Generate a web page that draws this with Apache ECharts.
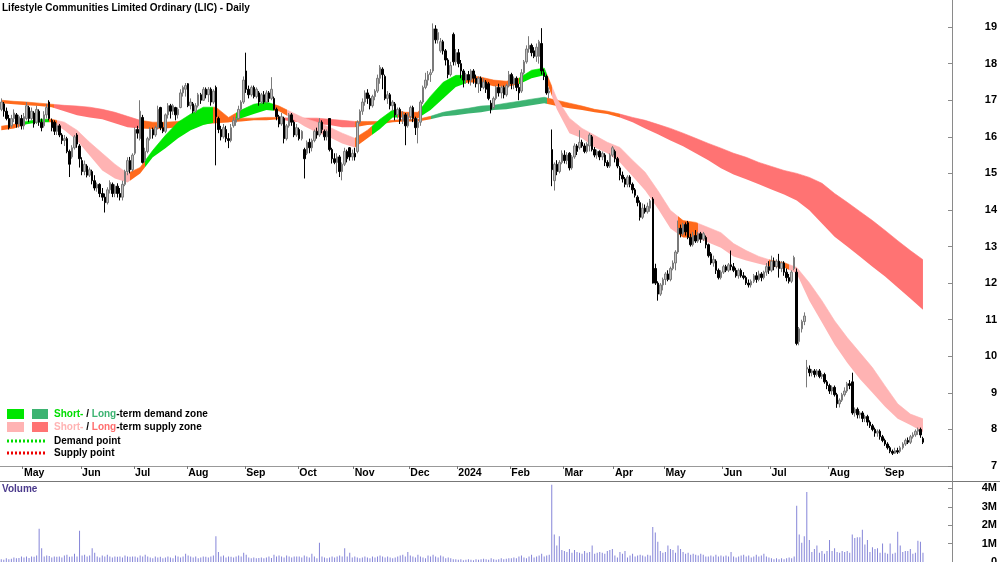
<!DOCTYPE html>
<html><head><meta charset="utf-8">
<script src="https://cdn.jsdelivr.net/npm/echarts@6/dist/echarts.min.js"></script>
<style>html,body{margin:0;padding:0;background:#fff}#c{width:1000px;height:562px}</style>
</head><body><div id="c"></div>
<script>
const chartTitle = 'Lifestyle Communities Limited Ordinary (LIC) - Daily';
const startDate = '2023-04-17', endDate = '2024-09-23';
const holidays = ['2023-04-25','2023-06-12','2023-12-25','2023-12-26','2024-01-01','2024-01-26','2024-03-29','2024-04-01','2024-04-25','2024-06-10'];
const padDays = 11;
const monthNames = ['Jan','Feb','Mar','Apr','May','Jun','Jul','Aug','Sep','Oct','Nov','Dec'];

// daily candles: [open, close, low, high]
const ohlc = [
// Apr 2023
[16.75,16.95,16.70,17.05],[16.90,16.70,16.55,16.95],[16.70,16.50,16.45,16.80],[16.50,16.25,16.20,16.60],[16.30,16.50,16.25,16.60],[16.50,16.65,16.40,16.75],[16.60,16.35,16.25,16.65],[16.35,16.55,16.25,16.60],[16.50,16.30,16.20,16.60],
// May 2023
[16.30,16.55,16.20,16.65],[16.50,16.85,16.45,16.95],[16.80,16.50,16.40,16.85],[16.50,16.70,16.45,16.80],[16.65,16.35,16.25,16.70],
[16.40,16.75,16.35,16.85],[16.70,16.40,16.30,16.75],[16.40,16.25,16.15,16.50],[16.30,16.60,16.25,16.70],[16.60,16.80,16.50,16.90],
[16.95,16.50,16.45,17.00],[16.45,16.25,16.15,16.50],[16.40,16.15,16.05,16.45],[16.15,16.30,16.05,16.37],[16.30,16.05,15.99,16.35],
[16.05,15.90,15.80,16.10],[15.90,15.95,15.75,16.05],[15.95,15.60,15.55,16.00],[15.60,15.25,14.90,15.65],[15.45,15.70,15.40,15.77],
[15.70,16.00,15.65,16.05],[16.05,15.80,15.70,16.10],[15.75,15.40,15.16,15.80],
// Jun 2023
[15.35,15.05,14.95,15.44],[15.05,15.25,14.95,15.35],[15.20,14.95,14.89,15.25],[14.95,15.10,14.90,15.16],[15.05,14.80,14.70,15.10],
[14.80,14.60,14.53,14.95],[14.60,14.70,14.50,14.75],[14.70,14.45,14.35,14.73],[14.45,14.35,14.25,14.60],[14.35,14.20,13.93,14.45],
[14.20,14.55,14.15,14.62],[14.55,14.75,14.45,14.81],[14.70,14.45,14.35,14.75],[14.45,14.65,14.35,14.70],[14.65,14.45,14.34,14.73],
[14.45,14.35,14.26,14.60],[14.35,14.70,14.26,14.80],[14.70,15.05,14.65,15.10],[15.05,15.35,14.95,15.44],[15.35,15.10,15.00,15.45],
[15.10,15.50,15.05,15.55],
// Jul 2023
[15.55,16.20,15.50,16.26],[16.20,16.10,15.95,16.30],[15.95,16.70,15.90,17.00],[16.53,15.30,15.27,16.60],[15.35,15.60,15.30,15.70],
[15.60,15.95,15.55,16.00],[15.95,16.20,15.90,16.26],[16.20,16.05,15.95,16.25],[16.05,16.25,16.00,16.30],[16.25,16.75,16.20,16.85],
[16.80,16.25,16.18,16.82],[16.25,16.15,16.10,16.40],[16.15,16.60,16.10,16.64],[16.60,16.85,16.50,16.92],[16.85,16.70,16.50,16.90],
[16.70,16.85,16.60,16.90],[16.80,16.60,16.45,16.82],[16.60,16.75,16.50,16.80],[16.80,17.20,16.78,17.30],[17.20,17.35,17.10,17.40],
[17.30,17.40,17.10,17.47],
// Aug 2023
[17.45,16.85,16.81,17.47],[16.85,16.95,16.75,17.05],[16.90,16.70,16.64,16.95],[16.70,16.85,16.65,16.92],[16.85,17.15,16.80,17.20],
[17.15,17.00,16.90,17.20],[17.00,17.30,16.98,17.36],[17.30,17.15,17.05,17.35],[17.15,17.30,16.95,17.36],[17.30,16.95,16.85,17.35],
[16.95,17.25,16.90,17.30],[17.35,16.55,15.22,17.40],[16.50,16.20,16.10,16.55],[16.20,16.00,15.90,16.30],[16.00,16.25,15.95,16.35],
[16.20,15.95,15.85,16.30],[15.95,15.90,15.69,16.10],[15.90,16.25,15.85,16.35],[16.30,16.45,16.25,16.55],[16.40,16.50,16.30,16.55],
[16.50,16.75,16.45,16.85],[16.75,16.95,16.70,17.00],[16.95,17.55,16.90,17.65],
// Sep 2023
[17.80,17.30,17.20,18.30],[17.30,17.15,17.05,17.40],[17.15,17.35,17.10,17.40],[17.35,17.10,17.05,17.40],[17.10,17.30,17.05,17.35],
[17.20,16.95,16.85,17.25],[16.95,17.15,16.90,17.20],[17.15,16.95,16.90,17.25],[16.95,17.20,16.92,17.27],[17.20,17.05,16.95,17.25],
[17.05,17.30,17.00,17.63],[17.05,16.75,16.73,17.10],[16.75,16.55,16.45,16.80],[16.55,16.35,16.26,16.60],[16.35,16.55,16.30,16.65],
[16.50,15.95,15.82,16.55],[15.95,16.30,15.90,16.35],[16.30,16.60,16.25,16.65],[16.60,16.40,16.30,16.65],[16.40,16.05,15.99,16.45],
[16.05,16.25,16.00,16.35],
// Oct 2023
[16.20,15.95,15.90,16.25],[15.95,16.15,15.90,16.18],[15.65,15.40,14.86,15.70],[15.55,15.85,15.50,15.90],[15.85,15.70,15.55,15.95],
[15.70,15.90,15.60,15.95],[15.90,16.15,15.85,16.20],[16.15,16.05,15.95,16.25],[16.05,16.40,16.00,16.51],[16.40,16.20,16.10,16.45],
[16.15,16.00,15.90,16.20],[16.00,16.15,15.90,16.20],[16.50,15.65,15.60,16.51],[15.65,15.40,15.27,15.70],[15.40,15.30,15.25,15.55],
[15.30,15.45,15.00,15.55],[15.45,15.05,14.90,15.50],[15.05,15.25,14.81,15.30],[15.25,15.60,15.20,15.70],[15.60,15.40,15.30,15.65],
[15.70,15.45,15.35,15.72],[15.45,15.55,15.35,15.65],
// Nov 2023
[15.55,15.45,15.35,15.70],[15.60,16.40,15.55,16.45],[16.40,16.70,16.35,16.75],[16.70,16.95,16.60,17.05],[16.95,17.20,16.85,17.27],
[17.20,17.05,16.90,17.30],[17.05,16.85,16.75,17.15],[16.85,17.10,16.80,17.15],[17.10,17.25,17.00,17.30],[17.25,17.60,17.20,17.70],
[17.60,17.90,17.45,17.96],[17.85,17.70,17.30,17.90],[17.65,17.05,17.00,17.70],[17.05,17.15,16.90,17.25],[17.15,16.85,16.75,17.20],
[16.85,16.95,16.70,17.00],[16.90,16.60,16.45,16.95],[16.60,16.75,16.50,16.80],[16.75,16.45,16.35,16.80],[16.45,16.60,16.35,16.70],
[16.60,16.30,15.77,16.65],[16.30,16.55,16.25,16.65],
// Dec 2023
[16.55,16.80,16.45,16.85],[16.80,16.50,16.40,16.85],[16.50,16.25,16.05,16.55],[16.25,16.40,15.82,16.50],[16.40,16.95,16.30,17.00],
[16.95,17.35,16.90,17.40],[17.35,17.55,17.30,17.75],[17.55,17.70,17.40,17.80],[17.70,17.75,17.50,17.85],[17.80,18.95,17.75,19.10],
[18.95,18.65,18.55,19.05],[18.65,18.85,18.55,18.95],[18.35,18.60,18.30,18.70],[18.60,18.35,18.25,18.65],[18.35,18.10,17.95,18.40],
[18.10,17.70,17.60,18.15],[17.70,17.95,17.65,18.05],[18.80,18.05,17.95,18.85],[18.05,18.30,17.95,18.40],
// Jan 2024
[18.30,18.00,17.90,18.40],[18.00,17.80,17.60,18.10],[17.80,17.55,17.35,17.85],[17.55,17.70,17.45,17.75],[17.70,17.55,17.45,17.80],
[17.55,17.80,17.40,17.85],[17.80,17.60,17.45,17.85],[17.60,17.45,17.35,17.70],[17.45,17.60,17.20,17.65],[17.60,17.35,17.25,17.65],
[17.35,17.50,17.30,17.60],[17.50,17.30,17.20,17.55],[17.45,17.05,17.00,17.50],[16.92,16.75,16.64,17.00],[16.80,17.05,16.75,17.10],
[17.05,17.35,17.00,17.40],[17.35,17.20,17.10,17.45],[17.20,17.35,17.05,17.40],[17.35,17.15,17.05,17.40],[17.15,17.40,17.10,17.45],
[17.40,17.70,17.35,17.80],
// Feb 2024
[17.70,17.45,17.30,17.75],[17.45,17.60,17.30,17.65],[17.60,17.35,17.25,17.65],[17.35,17.20,17.00,17.45],[17.25,17.75,17.20,17.85],
[17.75,18.05,17.70,18.10],[18.05,18.40,18.00,18.50],[18.40,18.50,18.30,18.75],[18.50,18.30,18.20,18.55],[18.35,18.20,18.15,18.45],
[18.20,18.45,18.05,18.55],[18.20,18.60,18.00,18.65],[18.55,17.80,17.70,18.97],[17.75,17.65,17.55,17.85],[17.65,17.20,17.15,17.70],
[17.20,17.25,17.05,17.35],[15.65,15.10,14.65,16.20],[14.80,15.25,14.53,15.30],[15.25,15.05,14.95,15.36],[15.05,15.30,15.00,15.36],
[15.30,15.55,15.25,15.63],
// Mar 2024
[15.50,15.35,15.27,15.63],[15.35,15.50,15.25,15.58],[15.55,15.15,15.08,15.58],[15.15,15.45,15.10,15.50],[15.45,15.75,15.40,15.82],
[15.75,15.60,15.50,15.80],[15.70,15.85,15.65,16.18],[15.85,15.75,15.70,15.92],[15.75,15.60,15.55,15.82],[15.60,15.80,15.55,15.85],
[15.75,16.05,15.60,16.10],[16.00,15.65,15.60,16.05],[15.65,15.50,15.44,15.72],[15.50,15.60,15.40,15.65],[15.60,15.45,15.36,15.63],
[15.45,15.55,15.36,15.60],[15.50,15.30,15.20,15.55],[15.30,15.20,15.15,15.36],[15.20,15.50,15.15,15.55],[15.50,15.70,15.45,15.75],
// Apr 2024
[15.60,15.40,15.30,15.65],[15.40,15.20,15.14,15.45],[15.15,14.95,14.81,15.20],[14.95,14.85,14.75,15.05],[14.85,14.70,14.62,14.90],
[14.70,14.90,14.62,14.95],[14.90,14.70,14.62,14.95],[14.70,14.55,14.45,14.75],[14.55,14.40,14.34,14.60],[14.35,14.20,14.10,14.40],
[14.20,13.80,13.71,14.26],[13.80,14.05,13.75,14.18],[14.05,13.95,13.90,14.15],[13.95,14.10,13.90,14.20],[14.05,14.25,13.95,14.30],
[14.30,12.00,11.99,14.35],[12.40,12.00,11.95,12.53],[12.00,11.70,11.52,12.05],[11.70,11.95,11.65,12.00],[11.95,12.10,11.80,12.15],
// May 2024
[12.10,12.25,11.95,12.30],[12.25,12.10,12.05,12.35],[12.10,12.40,12.05,12.45],[12.40,12.55,12.35,12.62],[12.55,12.85,12.35,12.90],
[12.85,13.50,12.80,13.71],[13.50,13.35,13.25,13.60],[13.35,13.60,13.30,13.65],[13.60,13.40,13.30,13.66],[13.65,13.25,13.20,13.70],
[13.25,13.05,13.00,13.35],[13.05,13.30,13.00,13.40],[13.30,13.15,13.10,13.45],[13.15,13.35,13.10,13.40],[13.35,13.20,13.10,13.40],
[13.20,13.35,13.15,13.40],[13.25,13.05,12.95,13.30],[13.05,12.75,12.70,13.08],[12.80,12.55,12.50,12.85],[12.55,12.65,12.45,12.75],
[12.60,12.35,12.25,12.65],[12.35,12.15,12.10,12.40],[12.15,12.30,12.10,12.35],
// Jun 2024
[12.30,12.45,12.25,12.50],[12.45,12.35,12.30,12.50],[12.35,12.50,12.30,12.55],[12.50,12.45,12.35,12.89],[12.45,12.35,12.30,12.55],
[12.35,12.20,12.15,12.42],[12.20,12.35,12.12,12.40],[12.35,12.20,12.15,12.40],[12.20,12.15,12.10,12.30],[12.15,12.00,11.95,12.20],
[12.00,11.95,11.88,12.10],[11.95,12.05,11.88,12.10],[12.05,12.20,12.00,12.25],[12.20,12.10,12.01,12.30],[12.10,12.25,12.05,12.34],
[12.25,12.15,12.05,12.30],[12.15,12.30,12.10,12.34],[12.30,12.45,12.20,12.55],[12.45,12.35,12.25,12.60],
// Jul 2024
[12.35,12.60,12.30,12.75],[12.60,12.45,12.35,12.70],[12.45,12.60,12.40,12.65],[12.60,12.40,12.15,12.80],[12.40,12.55,12.30,12.60],
[12.55,12.30,12.20,12.60],[12.30,12.15,12.05,12.40],[12.15,12.05,11.99,12.25],[12.05,12.30,12.00,12.35],[12.40,12.70,12.35,12.75],
[12.30,10.35,10.30,12.40],[10.40,10.75,10.30,10.80],[10.75,10.95,10.65,11.00],[10.95,11.10,10.85,11.20],[9.65,9.70,9.15,9.90],
[9.65,9.55,9.45,9.75],[9.55,9.60,9.45,9.65],[9.60,9.50,9.42,9.65],[9.50,9.60,9.45,9.65],[9.60,9.45,9.40,9.65],
[9.45,9.50,9.38,9.55],[9.50,9.30,9.25,9.55],[9.30,9.20,9.10,9.35],
// Aug 2024
[9.20,9.05,8.97,9.25],[9.05,9.15,8.95,9.20],[9.15,8.95,8.90,9.20],[8.95,8.70,8.59,9.00],[8.70,8.80,8.60,8.85],
[8.80,8.95,8.75,9.00],[8.95,9.05,8.90,9.15],[9.05,9.25,9.00,9.30],[9.25,9.20,9.10,9.35],[9.30,8.45,8.40,9.55],
[8.45,8.55,8.35,8.60],[8.55,8.40,8.30,8.60],[8.40,8.45,8.30,8.50],[8.45,8.30,8.20,8.50],[8.30,8.35,8.20,8.40],
[8.35,8.20,8.10,8.40],[8.20,8.10,8.04,8.25],[8.10,8.00,7.95,8.15],[8.00,7.90,7.80,8.05],[7.90,7.95,7.80,8.00],
[7.95,7.80,7.72,8.00],[7.80,7.70,7.65,7.85],
// Sep 2024
[7.70,7.60,7.55,7.75],[7.60,7.50,7.45,7.65],[7.50,7.40,7.35,7.55],[7.40,7.35,7.30,7.45],[7.35,7.42,7.33,7.50],
[7.42,7.38,7.33,7.50],[7.40,7.50,7.35,7.55],[7.50,7.60,7.45,7.65],[7.60,7.70,7.55,7.75],[7.70,7.65,7.60,7.78],
[7.65,7.80,7.60,7.85],[7.80,7.85,7.75,7.92],[7.85,7.95,7.80,8.00],[7.95,8.00,7.85,8.05],[8.00,7.85,7.77,8.05],
[7.75,7.65,7.60,7.80]
];

// daily volume, millions
const volume = [
0.15,0.12,0.2,0.15,0.18,0.25,0.2,0.22,0.3,
0.25,0.3,0.22,0.3,0.28,0.35,1.8,0.75,0.3,0.35,0.32,0.25,0.3,0.28,0.3,0.25,0.35,0.4,0.28,0.3,0.45,0.3,1.7,
0.35,0.4,0.3,0.35,0.75,0.5,0.3,0.25,0.35,0.3,0.4,0.3,0.25,0.3,0.28,0.3,0.25,0.35,0.3,0.28,0.3,
0.3,0.25,0.35,0.3,0.4,0.3,0.25,0.2,0.3,0.25,0.28,0.2,0.25,0.3,0.25,0.2,0.35,0.3,0.25,0.3,0.45,
0.35,0.3,0.25,0.3,0.2,0.25,0.3,0.28,0.25,0.3,0.35,1.4,0.55,0.3,0.35,0.25,0.3,0.28,0.25,0.3,0.35,0.3,0.5,
0.4,0.25,0.2,0.25,0.2,0.22,0.25,0.2,0.25,0.3,0.22,0.4,0.3,0.35,0.3,0.25,0.35,0.3,0.25,0.3,0.3,
0.3,0.25,0.35,0.3,0.25,0.45,0.3,0.2,1.05,0.3,0.25,0.2,0.25,0.3,0.25,0.3,0.35,0.3,0.75,0.3,0.5,0.25,
0.3,0.25,0.2,0.25,0.3,0.25,0.2,0.3,0.25,0.3,0.35,0.3,0.25,0.3,0.25,0.2,0.25,0.3,0.35,0.4,0.3,0.55,
0.35,0.3,0.25,0.4,0.3,0.25,0.2,0.35,0.3,0.4,0.3,0.25,0.35,0.3,0.2,0.25,0.2,0.15,0.15,
0.12,0.15,0.1,0.12,0.15,0.12,0.1,0.15,0.12,0.15,0.18,0.15,0.12,0.2,0.15,0.12,0.15,0.2,0.15,0.18,0.2,
0.2,0.25,0.2,0.3,0.35,0.25,0.2,0.3,0.4,0.25,0.3,0.35,0.45,0.3,0.35,0.4,4.2,1.5,0.9,1.4,0.65,
0.6,0.55,0.7,0.5,0.65,0.55,0.5,0.45,0.6,0.5,0.55,0.9,0.45,0.5,0.55,0.5,0.45,0.6,0.65,0.7,
0.35,0.25,0.55,0.45,0.6,0.25,0.35,0.45,0.3,0.35,0.4,0.35,0.3,0.4,0.35,1.9,1.6,1.1,0.6,0.5,
0.55,0.9,0.7,0.65,0.5,0.9,0.7,0.55,0.45,0.5,0.4,0.45,0.4,0.35,0.45,0.4,0.3,0.3,0.35,0.3,0.4,0.3,0.35,
0.3,0.35,0.3,0.55,0.3,0.25,0.3,0.35,0.4,0.3,0.35,0.25,0.3,0.4,0.3,0.35,0.45,0.3,0.25,
0.2,0.15,0.2,0.15,0.2,0.15,0.2,0.25,0.2,0.3,3.05,1.5,1.05,1.4,3.8,1.2,0.55,0.7,0.9,0.5,0.6,0.45,0.6,
1.2,0.6,0.75,0.55,0.5,0.6,0.55,0.6,0.5,1.5,1.3,1.35,1.35,1.75,0.95,1.2,0.55,0.8,0.7,0.75,0.5,1.0,
0.5,0.45,1.0,0.45,0.5,1.65,0.9,0.55,0.6,0.6,0.7,0.45,0.5,1.15,1.1,0.5
];

// zone bands sampled every 5 trading days
const bandStep = 5;
const shortUpper = [16.29,16.34,16.42,16.48,16.48,16.40,16.18,15.85,15.55,15.25,
15.00,15.16,15.63,16.04,16.40,16.62,16.81,16.81,16.53,16.73,
16.89,16.95,16.84,16.67,16.51,16.40,16.26,16.10,15.96,16.18,
16.48,16.73,16.67,16.67,17.11,17.49,17.68,17.68,17.63,17.55,
17.52,17.60,17.82,17.88,17.05,16.51,16.23,16.04,15.85,15.71,
15.36,15.03,14.53,13.99,13.71,13.66,13.52,13.38,13.08,12.89,
12.73,12.62,12.56,12.43,12.01,11.52,10.97,10.51,10.10,9.69,
9.19,8.70,8.42,8.29];
const shortLower = [16.18,16.23,16.34,16.40,16.40,16.18,15.90,15.49,15.08,14.86,
14.75,15.00,15.44,15.69,15.96,16.18,16.32,16.40,16.40,16.51,
16.62,16.73,16.70,16.51,16.29,16.12,15.99,15.82,15.71,15.96,
16.21,16.53,16.53,16.51,16.73,17.05,17.36,17.49,17.47,17.38,
17.36,17.44,17.60,17.68,16.75,16.10,15.96,15.71,15.55,15.30,
14.92,14.53,14.04,13.49,13.25,13.25,13.11,12.97,12.73,12.62,
12.53,12.45,12.43,12.26,11.52,10.92,10.32,9.82,9.38,9.00,
8.62,8.29,8.12,7.93];
const longUpper = [17.00,16.97,16.95,16.92,16.89,16.86,16.84,16.81,16.75,16.67,
16.56,16.45,16.40,16.40,16.42,16.45,16.45,16.48,16.48,16.51,
16.51,16.53,16.53,16.51,16.51,16.51,16.48,16.45,16.42,16.42,
16.42,16.45,16.48,16.48,16.56,16.67,16.73,16.78,16.84,16.86,
16.92,16.97,17.03,17.08,17.00,16.92,16.84,16.75,16.70,16.62,
16.53,16.45,16.34,16.23,16.10,15.96,15.82,15.69,15.55,15.44,
15.30,15.19,15.08,15.00,14.89,14.73,14.45,14.21,13.96,13.71,
13.44,13.16,12.89,12.64];
const longLower = [16.92,16.89,16.86,16.84,16.81,16.70,16.59,16.53,16.48,16.37,
16.26,16.23,16.21,16.23,16.26,16.32,16.34,16.37,16.40,16.42,
16.45,16.45,16.48,16.42,16.40,16.34,16.32,16.26,16.26,16.32,
16.34,16.40,16.42,16.42,16.48,16.56,16.59,16.64,16.67,16.73,
16.75,16.81,16.86,16.92,16.84,16.78,16.73,16.67,16.62,16.53,
16.40,16.23,16.07,15.90,15.74,15.55,15.36,15.14,14.97,14.84,
14.70,14.56,14.42,14.26,13.99,13.63,13.27,13.00,12.73,12.45,
12.18,11.88,11.58,11.27];

// zone states by trading-day index: [from, to, state]
const shortZones = [[0,9,'o'],[9,19,'g'],[19,22,'o'],[22,51,'p'],[51,57,'o'],[57,84,'g'],[84,93,'o'],[93,108,'g'],[108,113,'o'],[113,140,'p'],[140,147,'o'],[147,157,'g'],[157,166,'o'],[166,184,'g'],[184,205,'o'],[205,216,'g'],[216,218,'o'],[218,268,'p'],[268,276,'o'],[276,304,'p'],[304,312,'o'],[312,380,'p']];
const longZones = [[0,21,'o'],[21,55,'r'],[55,112,'o'],[112,140,'r'],[140,170,'o'],[170,216,'dg'],[216,245,'o'],[245,380,'r']];
const zoneColors = {o:'#ff6a1c', g:'#00e600', p:'#ffb3b3', dg:'#3cb371', r:'#ff7373'};

// ---- build categories (trading days) ----
const dates = [];
for (let d = new Date(startDate + 'T00:00:00Z'); d <= new Date(endDate + 'T00:00:00Z'); d.setUTCDate(d.getUTCDate() + 1)) {
  const wd = d.getUTCDay(); const s = d.toISOString().slice(0, 10);
  if (wd === 0 || wd === 6 || holidays.includes(s)) continue;
  dates.push(s);
}
const cats = dates.slice();
for (let k = 0; k < padDays; k++) cats.push('pad' + k);
const monthStart = new Set();
for (let i = 1; i < dates.length; i++) if (dates[i].slice(5, 7) !== dates[i - 1].slice(5, 7)) monthStart.add(i);
const isMonthStart = (idx) => monthStart.has(idx);

const pts = (arr) => arr.map((v, k) => [k * bandStep, v]);
const diff = (up, lo) => up.map((v, k) => [k * bandStep, +(v - lo[k]).toFixed(3)]);
const pieces = (z) => z.map(([s, e, t]) => ({gte: s, lt: e, color: zoneColors[t]}));

const FONT = '"Liberation Sans", Arial, sans-serif';
const chart = echarts.init(document.getElementById('c'), null, {renderer: 'canvas'});
const axisGrey = '#8a8a8a';

chart.setOption({
  animation: false,
  backgroundColor: '#fff',
  grid: [
    {left: 0, right: 48, top: 0, height: 466, containLabel: false, outerBoundsMode: 'none'},
    {left: 0, right: 48, top: 481, bottom: 0, containLabel: false, outerBoundsMode: 'none'}
  ],
  xAxis: [
    {type: 'category', gridIndex: 0, data: cats, boundaryGap: true,
     axisLine: {show: true, lineStyle: {color: '#999', width: 1}},
     axisTick: {show: true, interval: isMonthStart, length: 3, lineStyle: {color: '#777'}},
     axisLabel: {show: true, interval: isMonthStart, align: 'left', margin: 2, fontSize: 10.5, fontWeight: 'bold', color: '#000', fontFamily: FONT,
       formatter: (v) => { if (v.startsWith('pad')) return ''; const m = +v.slice(5, 7); return m === 1 ? v.slice(0, 4) : monthNames[m - 1]; }},
     splitLine: {show: false}},
    {type: 'category', gridIndex: 1, data: cats, boundaryGap: true, show: false}
  ],
  yAxis: [
    {type: 'value', gridIndex: 0, position: 'right', min: 7, max: 19.74, interval: 1,
     axisLine: {show: true, lineStyle: {color: axisGrey}},
     axisTick: {show: true, inside: true, length: 4, lineStyle: {color: axisGrey}},
     axisLabel: {showMaxLabel: false, align: 'right', margin: 45, fontSize: 11, fontWeight: 'bold', color: '#000', fontFamily: FONT},
     splitLine: {show: false}},
    {type: 'value', gridIndex: 1, position: 'right', min: 0, max: 4.4, interval: 1,
     axisLine: {show: true, lineStyle: {color: axisGrey}},
     axisTick: {show: true, inside: true, length: 4, lineStyle: {color: axisGrey}},
     axisLabel: {showMaxLabel: false, align: 'right', margin: 45, fontSize: 11, fontWeight: 'bold', color: '#000', fontFamily: FONT,
       formatter: (v) => v === 0 ? '0' : v + 'M'},
     splitLine: {show: false}}
  ],
  visualMap: [
    {type: 'piecewise', show: false, dimension: 0, seriesIndex: 1, pieces: pieces(longZones)},
    {type: 'piecewise', show: false, dimension: 0, seriesIndex: 3, pieces: pieces(shortZones)}
  ],
  series: [
    {type: 'line', stack: 'long', data: pts(longLower), symbol: 'none', silent: true, lineStyle: {opacity: 0}, z: 1},
    {type: 'line', stack: 'long', data: diff(longUpper, longLower), symbol: 'none', silent: true, lineStyle: {width: 0.6}, areaStyle: {opacity: 1}, z: 1},
    {type: 'line', stack: 'short', data: pts(shortLower), symbol: 'none', silent: true, lineStyle: {opacity: 0}, z: 2},
    {type: 'line', stack: 'short', data: diff(shortUpper, shortLower), symbol: 'none', silent: true, lineStyle: {width: 0.6}, areaStyle: {opacity: 1}, z: 2},
    {type: 'candlestick', data: ohlc, barWidth: 2, z: 3,
     itemStyle: {color: '#bdbdbd', color0: '#000', borderColor: '#7a7a7a', borderColor0: '#000', borderWidth: 1}},
    {type: 'bar', xAxisIndex: 1, yAxisIndex: 1, data: volume, barWidth: 1, itemStyle: {color: '#8585d8'}}
  ],
  graphic: [
    {type: 'text', x: 2, y: 3, style: {text: chartTitle, font: 'bold 10px ' + FONT, fill: '#000'}},
    {type: 'rect', shape: {x: 7, y: 409, width: 17, height: 10}, style: {fill: zoneColors.g}},
    {type: 'rect', shape: {x: 32, y: 409, width: 16, height: 10}, style: {fill: zoneColors.dg}},
    {type: 'rect', shape: {x: 7, y: 422, width: 17, height: 10}, style: {fill: zoneColors.p}},
    {type: 'rect', shape: {x: 32, y: 422, width: 16, height: 10}, style: {fill: zoneColors.r}},
    {type: 'line', shape: {x1: 7, y1: 441, x2: 45, y2: 441}, style: {stroke: '#00dd00', lineWidth: 3, lineDash: [2, 2]}},
    {type: 'line', shape: {x1: 7, y1: 453, x2: 45, y2: 453}, style: {stroke: '#ee0000', lineWidth: 3, lineDash: [2, 2]}},
    {type: 'text', x: 54, y: 414, style: {text: '{a|Short-} / {b|Long}-term demand zone', font: 'bold 10px ' + FONT, fill: '#000', verticalAlign: 'middle',
      rich: {a: {fill: '#00dd00', font: 'bold 10px ' + FONT}, b: {fill: '#3cb371', font: 'bold 10px ' + FONT}}}},
    {type: 'text', x: 54, y: 427, style: {text: '{a|Short-} / {b|Long}-term supply zone', font: 'bold 10px ' + FONT, fill: '#000', verticalAlign: 'middle',
      rich: {a: {fill: '#ffb3b3', font: 'bold 10px ' + FONT}, b: {fill: '#ff6e6e', font: 'bold 10px ' + FONT}}}},
    {type: 'text', x: 54, y: 441, style: {text: 'Demand point', font: 'bold 10px ' + FONT, fill: '#000', verticalAlign: 'middle'}},
    {type: 'text', x: 54, y: 453, style: {text: 'Supply point', font: 'bold 10px ' + FONT, fill: '#000', verticalAlign: 'middle'}},
    {type: 'line', shape: {x1: 0, y1: 481.5, x2: 1000, y2: 481.5}, style: {stroke: '#777', lineWidth: 1}},
    {type: 'line', shape: {x1: 952.5, y1: 0, x2: 952.5, y2: 562}, style: {stroke: axisGrey, lineWidth: 1}},
    {type: 'text', x: 2, y: 484, style: {text: 'Volume', font: 'bold 10px ' + FONT, fill: '#4b3a8c'}}
  ]
});
</script></body></html>
